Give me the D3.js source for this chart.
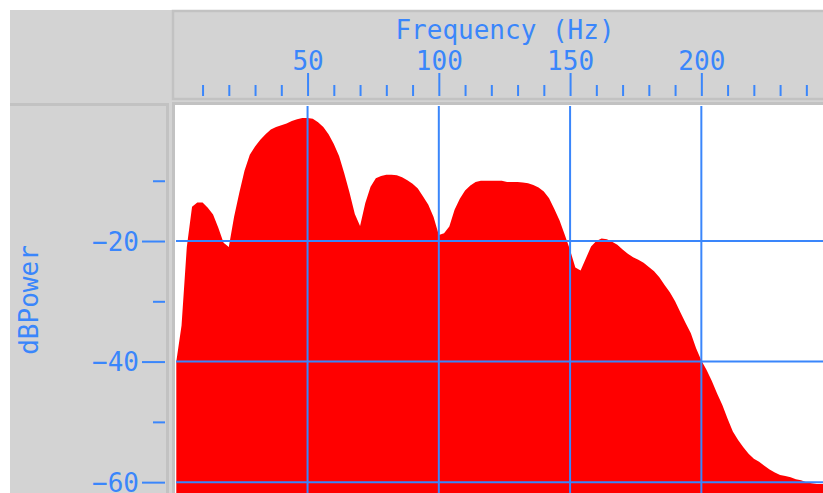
<!DOCTYPE html>
<html>
<head>
<meta charset="utf-8">
<script src="https://cdn.jsdelivr.net/npm/d3@7"></script>
<style>
  body { margin: 0; background: #fff; }
  svg { display: block; }
</style>
</head>
<body>
<div class="container"></div>
<script>
// spectrum, one value every 2 Hz starting at 0 Hz
const binHz = 2;
const dbPower = [
  -40, -34, -21, -14.3, -13.6, -13.6, -14.5, -15.6, -17.8, -20.3,
  -21, -16, -12, -8.3, -5.7, -4.3, -3.2, -2.3, -1.5, -1.1,
  -0.8, -0.5, -0.1, 0.2, 0.4, 0.4, 0.3, -0.3, -1.1, -2.3,
  -3.9, -5.9, -8.8, -12, -15.5, -17.5, -13.7, -11, -9.6, -9.2,
  -9, -9, -9.1, -9.4, -9.9, -10.5, -11.3, -12.6, -14, -16,
  -19, -18.7, -17.6, -14.8, -13, -11.6, -10.8, -10.2, -10, -10,
  -10, -10, -10, -10.2, -10.2, -10.2, -10.3, -10.4, -10.7, -11.1,
  -11.8, -12.9, -14.7, -16.6, -19, -21.5, -24.4, -24.9, -22.9, -20.9,
  -20, -19.6, -19.7, -20.1, -20.6, -21.4, -22.1, -22.7, -23.1, -23.6,
  -24.3, -25, -26, -27.3, -28.5, -30, -31.8, -33.6, -35.3, -37.8,
  -39.8, -41.4, -43.2, -45.3, -47.2, -49.5, -51.6, -53, -54.2, -55.3,
  -56.1, -56.6, -57.3, -57.9, -58.4, -58.8, -59, -59.2, -59.5, -59.7,
  -60, -60.2, -60.3, -60.3, -60.3
];
const freqs = dbPower.map((_, i) => i * binHz);

const xMajor = [50, 100, 150, 200];
const xMinor = [10, 20, 30, 40, 60, 70, 80, 90, 110, 120, 130, 140, 160, 170, 180, 190, 210, 220, 230, 240];
const yMajor = [-60, -40, -20];
const yMinor = [-50, -30, -10];

const xTitle = 'Frequency (Hz)';
const yTitle = 'dBPower';

const width = 823, height = 493;
const gray = '#d3d3d3', edge = '#c2c2c2', blue = '#3a86fb';
const font = '"DejaVu Sans Mono", monospace';

const x = d3.scaleLinear().domain([0, 250]).range([176.3, 832.6]);
const y = d3.scaleLinear().domain([-61.8, 2.4]).range([493, 106]);

const svg = d3.select('.container')
    .append('svg')
    .attr('width', width)
    .attr('height', height);

// panels
svg.append('rect')
    .attr('x', 10).attr('y', 10)
    .attr('width', width).attr('height', height)
    .attr('fill', gray);

svg.append('path')
    .attr('d', 'M10,104.5H167.5V' + height)
    .attr('fill', 'none').attr('stroke', edge).attr('stroke-width', 3);

svg.append('path')
    .attr('d', 'M' + width + ',11H173V99H' + width)
    .attr('fill', 'none').attr('stroke', edge).attr('stroke-width', 2.5);

svg.append('rect')
    .attr('x', 173.5).attr('y', 103.5)
    .attr('width', width).attr('height', height)
    .attr('fill', '#fff').attr('stroke', edge).attr('stroke-width', 3);

svg.append('clipPath').attr('id', 'plot')
    .append('rect')
    .attr('x', 176).attr('y', 106)
    .attr('width', width - 176).attr('height', height - 106);

const plot = svg.append('g').attr('clip-path', 'url(#plot)');

const area = d3.area()
    .x((d, i) => x(freqs[i]))
    .y0(y(-61.8))
    .y1(d => y(d));

plot.append('path')
    .datum(dbPower)
    .attr('fill', '#ff0000')
    .attr('d', area);

// grid
plot.append('g')
    .selectAll('line')
    .data(xMajor)
    .join('line')
    .attr('x1', d => x(d)).attr('x2', d => x(d))
    .attr('y1', 106).attr('y2', height)
    .attr('stroke', blue).attr('stroke-width', 2);

plot.append('g')
    .selectAll('line')
    .data(yMajor)
    .join('line')
    .attr('x1', 176).attr('x2', width)
    .attr('y1', d => y(d)).attr('y2', d => y(d))
    .attr('stroke', blue).attr('stroke-width', 2);

// top axis
const xAxis = svg.append('g')
    .attr('transform', 'translate(0,96)')
    .call(d3.axisTop(x).tickValues(xMajor).tickSize(23).tickPadding(3).tickFormat(d3.format('d')));

const xAxisMinor = svg.append('g')
    .attr('transform', 'translate(0,96)')
    .call(d3.axisTop(x).tickValues(xMinor).tickSize(11).tickFormat(''));

// left axis
const yAxis = svg.append('g')
    .attr('transform', 'translate(165,0)')
    .call(d3.axisLeft(y).tickValues(yMajor).tickSize(23).tickPadding(3).tickFormat(d3.format('d')));

const yAxisMinor = svg.append('g')
    .attr('transform', 'translate(165,0)')
    .call(d3.axisLeft(y).tickValues(yMinor).tickSize(12).tickFormat(''));

[xAxis, xAxisMinor, yAxis, yAxisMinor].forEach(g => {
    g.select('.domain').remove();
    g.selectAll('line').attr('stroke', blue).attr('stroke-width', 2);
    g.selectAll('text')
        .attr('fill', blue)
        .style('font-family', font)
        .style('font-size', '26px');
});
yAxis.selectAll('text').attr('dy', '0.36em');

svg.append('text')
    .attr('x', 505).attr('y', 39)
    .attr('text-anchor', 'middle')
    .attr('fill', blue)
    .style('font-family', font)
    .style('font-size', '26px')
    .text(xTitle);

svg.append('text')
    .attr('transform', 'translate(38,300) rotate(-90)')
    .attr('text-anchor', 'middle')
    .attr('fill', blue)
    .style('font-family', font)
    .style('font-size', '26px')
    .text(yTitle);
</script>
</body>
</html>
